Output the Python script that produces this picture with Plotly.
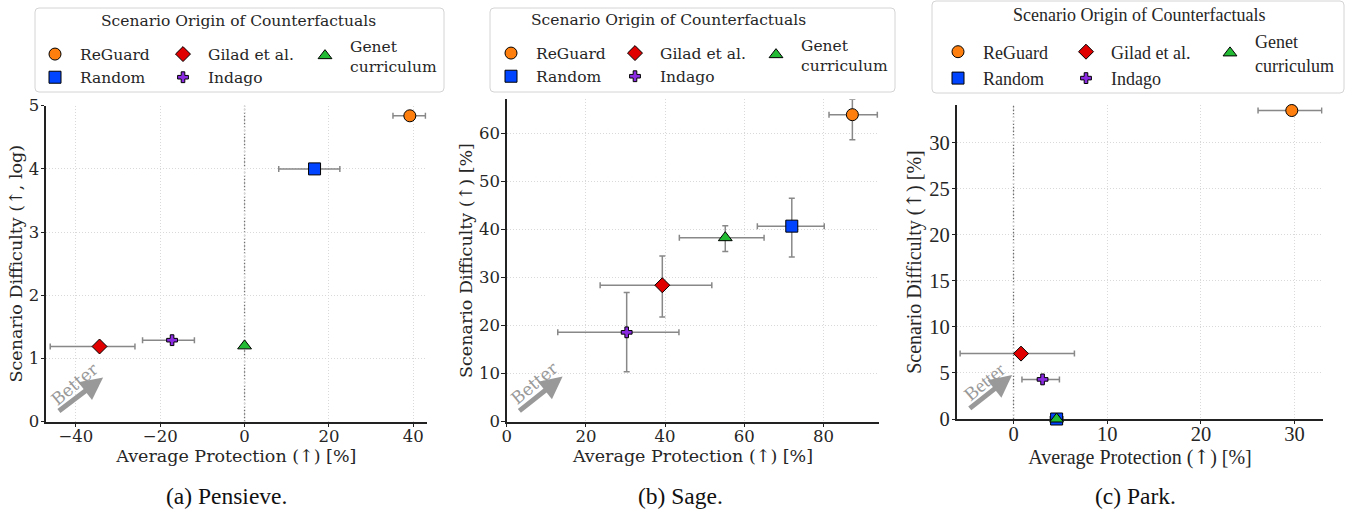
import plotly.graph_objects as go

W, H = 1351, 514

# ---------------- data ----------------
methods = ["ReGuard", "Random", "Gilad et al.", "Indago", "Genet<br>curriculum"]
groups = [1, 1, 2, 2, 3]
colors = ["#ff7f0e", "#0044ff", "#e00000", "#8a2be2", "#22bb33"]
symbols = ["circle", "square", "diamond", "cross", "triangle-up"]
sizes = [12, 12, 11.5, 9, 12]

# Pensieve
pensieve_x = [39.2, 16.6, -34.4, -17.2, 0.0]
pensieve_x_minus = [4.0, 8.5, 11.7, 7.0, 0.0]
pensieve_x_plus = [3.7, 6.0, 8.4, 5.3, 0.0]
pensieve_y = [4.84, 4.0, 1.19, 1.29, 1.20]

# Sage
sage_x = [87.3, 72.0, 39.3, 30.3, 55.2]
sage_x_minus = [5.9, 8.7, 15.7, 17.4, 11.6]
sage_x_plus = [6.3, 8.2, 12.5, 13.2, 9.8]
sage_y = [63.9, 40.7, 28.4, 18.6, 38.3]
sage_y_minus = [5.2, 6.4, 6.6, 8.2, 2.9]
sage_y_plus = [3.2, 5.8, 6.1, 8.3, 2.5]

# Park
park_x = [29.7, 4.6, 0.8, 3.1, 4.6]
park_x_minus = [3.6, 0.7, 6.5, 2.2, 0.0]
park_x_plus = [3.2, 0.7, 5.7, 1.8, 0.0]
park_y = [33.5, 0.0, 7.1, 4.3, 0.0]

ARROW = '<span style="font-family:DejaVu Serif">↑</span>'
x_title = f"Average Protection ({ARROW}) [%]"
y_titles = [f"Scenario Difficulty ({ARROW}, log)", f"Scenario Difficulty ({ARROW}) [%]",
            f"Scenario Difficulty ({ARROW}) [%]"]
captions = ["(a) Pensieve.", "(b) Sage.", "(c) Park."]
legend_title = "Scenario Origin of Counterfactuals"

# ---------------- layout helpers ----------------
def px_x(v):
    return v / W

def px_y(v):
    return 1 - v / H

serif = "DejaVu Serif"
times = "Liberation Serif"

panels = [
    dict(x=pensieve_x, xm=pensieve_x_minus, xp=pensieve_x_plus, y=pensieve_y, ym=None, yp=None,
         dom_x=(46, 426.7), dom_y=(105.7, 421.7), xr=[-47.1, 43.2], yr=[0, 5.0], xdt=20, ydt=1,
         font=serif, tick=16.5, ttl=17.5, leg=15.5, better=17, zero=True,
         xls=-5, xts=4,
         box=(35, 8, 444, 92), title_xy=(238.5, 21), legA=(30, 66), legB=(300, 56),
         lw=[73, 90, 90], caption_x=226),
    dict(x=sage_x, xm=sage_x_minus, xp=sage_x_plus, y=sage_y, ym=sage_y_minus, yp=sage_y_plus,
         dom_x=(506.7, 879.3), dom_y=(99.3, 421.7), xr=[0, 94.1], yr=[0, 67.1], xdt=20, ydt=10,
         font=serif, tick=16.5, ttl=17.5, leg=15.5, better=17, zero=False,
         xls=-5, xts=4,
         box=(490, 8, 895, 92), title_xy=(668, 20), legA=(486, 65), legB=(751, 55),
         lw=[69, 90, 90], caption_x=680),
    dict(x=park_x, xm=park_x_minus, xp=park_x_plus, y=park_y, ym=None, yp=None,
         dom_x=(957.3, 1322.7), dom_y=(105, 419), xr=[-6, 33.0], yr=[0, 34.1], xdt=10, ydt=5,
         font=times, tick=20.5, ttl=20, leg=18, better=19, zero=True,
         xls=-8, xts=0,
         box=(932, 1, 1344, 93), title_xy=(1139, 15), legA=(933, 65), legB=(1205, 53),
         lw=[73, 90, 90], caption_x=1135),
]

fig = go.Figure()
shapes = []
annotations = []

for p_i, P in enumerate(panels):
    n = p_i + 1
    xa = "x" if n == 1 else f"x{n}"
    ya = "y" if n == 1 else f"y{n}"
    legA_id = 2 * p_i + 1
    legB_id = 2 * p_i + 2
    legA = "legend" if legA_id == 1 else f"legend{legA_id}"
    legB = f"legend{legB_id}"
    for i, m in enumerate(methods):
        err_x = dict(type="data", symmetric=False, array=[P["xp"][i]], arrayminus=[P["xm"][i]],
                     color="rgba(115,115,115,0.85)", thickness=1.5, width=3,
                     visible=(P["xp"][i] + P["xm"][i]) > 0)
        err_y = None
        if P["ym"] is not None:
            err_y = dict(type="data", symmetric=False, array=[P["yp"][i]], arrayminus=[P["ym"][i]],
                         color="rgba(115,115,115,0.85)", thickness=1.5, width=3, visible=True)
        fig.add_trace(go.Scatter(
            x=[P["x"][i]], y=[P["y"][i]], mode="markers", name=m,
            marker=dict(symbol=symbols[i], color=colors[i], size=sizes[i],
                        line=dict(color="black", width=1)),
            error_x=err_x, error_y=err_y, cliponaxis=False,
            xaxis=xa, yaxis=ya, legend=(legB if groups[i] == 3 else legA),
            legendgroup=f"p{n}g{groups[i]}", legendwidth=P["lw"][groups[i] - 1],
            showlegend=True, hoverinfo="skip",
        ))

    dx0, dx1 = P["dom_x"]
    dy0, dy1 = P["dom_y"]
    axkey = "xaxis" if n == 1 else f"xaxis{n}"
    aykey = "yaxis" if n == 1 else f"yaxis{n}"
    common = dict(showline=True, linecolor="#222222", linewidth=1.8, mirror=False,
                  ticks="outside", ticklen=3.5, tickwidth=1, tickcolor="#222222",
                  showgrid=True, gridcolor="#d9d9d9", griddash="1px,2px", gridwidth=1,
                  zeroline=False, layer="below traces", automargin=False,
                  tickfont=dict(family=P["font"], size=P["tick"], color="#262626"))
    legfont = dict(family=P["font"], size=P["leg"], color="#262626")
    fig.update_layout({
        axkey: dict(common, domain=[px_x(dx0), px_x(dx1)], range=P["xr"], dtick=P["xdt"],
                    tick0=0, anchor=ya, ticklabelstandoff=P["xls"],
                    title=dict(text=x_title, standoff=P["xts"],
                               font=dict(family=P["font"], size=P["ttl"], color="#262626"))),
        aykey: dict(common, domain=[px_y(dy1), px_y(dy0)], range=P["yr"], dtick=P["ydt"],
                    tick0=0, anchor=xa, ticklabelstandoff=-2,
                    title=dict(text=y_titles[p_i], standoff=2,
                               font=dict(family=P["font"], size=P["ttl"], color="#262626"))),
        legA: dict(orientation="h", traceorder="grouped", x=px_x(P["legA"][0]), xanchor="left",
                   y=px_y(P["legA"][1]), yanchor="middle", bgcolor="rgba(0,0,0,0)",
                   borderwidth=0, itemclick=False, itemwidth=40, font=legfont),
        legB: dict(orientation="v", x=px_x(P["legB"][0]), xanchor="left",
                   y=px_y(P["legB"][1]), yanchor="middle", bgcolor="rgba(0,0,0,0)",
                   borderwidth=0, itemclick=False, itemwidth=40, font=legfont),
    })

    # legend frame (rounded) + title
    bx0, by0, bx1, by1 = P["box"]
    r = 4
    path = (f"M {px_x(bx0 + r)},{px_y(by0)} L {px_x(bx1 - r)},{px_y(by0)} "
            f"Q {px_x(bx1)},{px_y(by0)} {px_x(bx1)},{px_y(by0 + r)} "
            f"L {px_x(bx1)},{px_y(by1 - r)} Q {px_x(bx1)},{px_y(by1)} {px_x(bx1 - r)},{px_y(by1)} "
            f"L {px_x(bx0 + r)},{px_y(by1)} Q {px_x(bx0)},{px_y(by1)} {px_x(bx0)},{px_y(by1 - r)} "
            f"L {px_x(bx0)},{px_y(by0 + r)} Q {px_x(bx0)},{px_y(by0)} {px_x(bx0 + r)},{px_y(by0)} Z")
    shapes.append(dict(type="path", path=path, xref="paper", yref="paper",
                       line=dict(color="#d4d4d4", width=1), fillcolor="rgba(255,255,255,0.8)",
                       layer="below"))
    annotations.append(dict(xref="paper", yref="paper", x=px_x(P["title_xy"][0]),
                            y=px_y(P["title_xy"][1]), xanchor="center", yanchor="middle",
                            text=legend_title, showarrow=False, font=legfont))

    if P["zero"]:
        shapes.append(dict(type="line", xref=xa, yref=f"{ya} domain", x0=0, x1=0, y0=0, y1=1,
                           line=dict(color="#6e6e6e", width=1.3, dash="1.5px,2px"), layer="below"))

    # "Better" arrow
    annotations.append(dict(xref=f"{xa} domain", yref=f"{ya} domain", x=0.15, y=0.14,
                            axref=f"{xa} domain", ayref=f"{ya} domain", ax=0.03, ay=0.03,
                            text="", showarrow=True, arrowhead=2, arrowsize=0.9, arrowwidth=5,
                            arrowcolor="#999999"))
    annotations.append(dict(xref=f"{xa} domain", yref=f"{ya} domain", x=0.075, y=0.12,
                            xanchor="center", yanchor="middle",
                            text="Better", showarrow=False, textangle=-40,
                            font=dict(family=P["font"], size=P["better"], color="#999999")))
    annotations.append(dict(xref="paper", yref="paper", x=px_x(P["caption_x"]), y=px_y(496),
                            xanchor="center", yanchor="middle", text=captions[p_i], showarrow=False,
                            font=dict(family="Liberation Serif", size=23.5, color="#111111")))

fig.update_layout(
    width=W, height=H, autosize=False,
    margin=dict(l=0, r=0, t=0, b=0, pad=0, autoexpand=False),
    paper_bgcolor="white", plot_bgcolor="white",
    shapes=shapes, annotations=annotations, hovermode=False,
)

fig.write_html("out.html", config={"displayModeBar": False, "staticPlot": False},
               post_script="document.body.style.margin='0';document.body.style.overflow='hidden';")
